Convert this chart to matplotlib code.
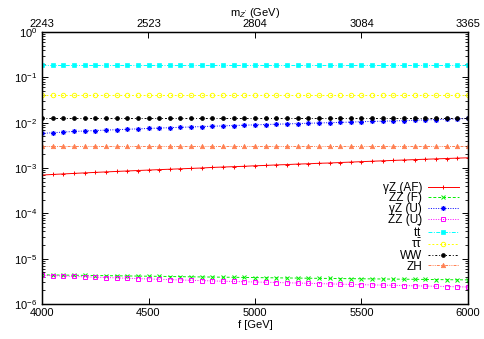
import numpy as np
import matplotlib
matplotlib.use("Agg")
import matplotlib.pyplot as plt
from matplotlib.ticker import FixedLocator, FixedFormatter, LogLocator, NullFormatter

plt.rcParams['font.family'] = ['Liberation Sans', 'DejaVu Sans']
plt.rcParams['mathtext.fontset'] = 'custom'
plt.rcParams['mathtext.rm'] = 'Liberation Sans'
plt.rcParams['mathtext.it'] = 'Liberation Sans:italic'

# f [GeV], 50 GeV steps
f = [4000, 4050, 4100, 4150, 4200, 4250, 4300, 4350, 4400, 4450,
     4500, 4550, 4600, 4650, 4700, 4750, 4800, 4850, 4900, 4950,
     5000, 5050, 5100, 5150, 5200, 5250, 5300, 5350, 5400, 5450,
     5500, 5550, 5600, 5650, 5700, 5750, 5800, 5850, 5900, 5950, 6000]

# branching ratios
gz_af = [0.70e-3, 0.72e-3, 0.74e-3, 0.76e-3, 0.78e-3, 0.80e-3, 0.82e-3, 0.84e-3, 0.86e-3, 0.88e-3,
         0.90e-3, 0.92e-3, 0.94e-3, 0.96e-3, 0.98e-3, 1.00e-3, 1.03e-3, 1.05e-3, 1.07e-3, 1.09e-3,
         1.12e-3, 1.14e-3, 1.17e-3, 1.19e-3, 1.22e-3, 1.24e-3, 1.27e-3, 1.29e-3, 1.32e-3, 1.35e-3,
         1.38e-3, 1.41e-3, 1.44e-3, 1.47e-3, 1.50e-3, 1.53e-3, 1.56e-3, 1.59e-3, 1.62e-3, 1.65e-3, 1.68e-3]
zz_f = [4.40e-6, 4.37e-6, 4.34e-6, 4.31e-6, 4.28e-6, 4.25e-6, 4.22e-6, 4.19e-6, 4.16e-6, 4.13e-6,
        4.10e-6, 4.07e-6, 4.04e-6, 4.01e-6, 3.98e-6, 3.95e-6, 3.93e-6, 3.90e-6, 3.88e-6, 3.85e-6,
        3.83e-6, 3.80e-6, 3.78e-6, 3.75e-6, 3.73e-6, 3.70e-6, 3.68e-6, 3.66e-6, 3.64e-6, 3.62e-6,
        3.60e-6, 3.58e-6, 3.56e-6, 3.54e-6, 3.52e-6, 3.50e-6, 3.48e-6, 3.46e-6, 3.44e-6, 3.42e-6, 3.40e-6]
gz_u = [5.8e-3, 6.0e-3, 6.2e-3, 6.4e-3, 6.55e-3, 6.7e-3, 6.85e-3, 7.0e-3, 7.15e-3, 7.3e-3,
        7.45e-3, 7.6e-3, 7.75e-3, 7.9e-3, 8.05e-3, 8.2e-3, 8.35e-3, 8.5e-3, 8.65e-3, 8.8e-3,
        8.95e-3, 9.1e-3, 9.25e-3, 9.4e-3, 9.55e-3, 9.7e-3, 9.85e-3, 10.0e-3, 10.15e-3, 10.3e-3,
        10.5e-3, 10.65e-3, 10.8e-3, 10.95e-3, 11.1e-3, 11.3e-3, 11.5e-3, 11.7e-3, 11.9e-3, 12.1e-3, 12.4e-3]
zz_u = [4.30e-6, 4.22e-6, 4.14e-6, 4.06e-6, 3.98e-6, 3.91e-6, 3.84e-6, 3.77e-6, 3.70e-6, 3.63e-6,
        3.57e-6, 3.51e-6, 3.45e-6, 3.39e-6, 3.33e-6, 3.28e-6, 3.23e-6, 3.18e-6, 3.14e-6, 3.10e-6,
        3.06e-6, 3.02e-6, 2.98e-6, 2.94e-6, 2.90e-6, 2.86e-6, 2.82e-6, 2.78e-6, 2.74e-6, 2.70e-6,
        2.67e-6, 2.64e-6, 2.61e-6, 2.58e-6, 2.55e-6, 2.52e-6, 2.49e-6, 2.46e-6, 2.43e-6, 2.40e-6, 2.37e-6]
tt = [0.187, 0.187, 0.187, 0.187, 0.187, 0.187, 0.187, 0.187, 0.187, 0.187,
      0.187, 0.187, 0.187, 0.187, 0.187, 0.187, 0.187, 0.187, 0.187, 0.187,
      0.187, 0.187, 0.187, 0.187, 0.187, 0.187, 0.187, 0.187, 0.187, 0.187,
      0.187, 0.187, 0.187, 0.187, 0.187, 0.187, 0.187, 0.187, 0.187, 0.187, 0.187]
tautau = [0.041, 0.041, 0.041, 0.041, 0.041, 0.041, 0.041, 0.041, 0.041, 0.041,
          0.041, 0.041, 0.041, 0.041, 0.041, 0.041, 0.041, 0.041, 0.041, 0.041,
          0.041, 0.041, 0.041, 0.041, 0.041, 0.041, 0.041, 0.041, 0.041, 0.041,
          0.041, 0.041, 0.041, 0.041, 0.041, 0.041, 0.041, 0.041, 0.041, 0.041, 0.041]
ww = [0.0124, 0.0124, 0.0124, 0.0124, 0.0124, 0.0124, 0.0124, 0.0124, 0.0124, 0.0124,
      0.0124, 0.0124, 0.0124, 0.0124, 0.0124, 0.0124, 0.0124, 0.0124, 0.0124, 0.0124,
      0.0124, 0.0124, 0.0124, 0.0124, 0.0124, 0.0124, 0.0124, 0.0124, 0.0124, 0.0124,
      0.0124, 0.0124, 0.0124, 0.0124, 0.0124, 0.0124, 0.0124, 0.0124, 0.0124, 0.0124, 0.0124]
zh = [0.0031, 0.0031, 0.0031, 0.0031, 0.0031, 0.0031, 0.0031, 0.0031, 0.0031, 0.0031,
      0.0031, 0.0031, 0.0031, 0.0031, 0.0031, 0.0031, 0.0031, 0.0031, 0.0031, 0.0031,
      0.0031, 0.0031, 0.0031, 0.0031, 0.0031, 0.0031, 0.0031, 0.0031, 0.0031, 0.0031,
      0.0031, 0.0031, 0.0031, 0.0031, 0.0031, 0.0031, 0.0031, 0.0031, 0.0031, 0.0031, 0.0031]

bottom_ticks = [4000, 4500, 5000, 5500, 6000]
top_labels = ['2243', '2523', '2804', '3084', '3365']

fig = plt.figure(figsize=(4.85, 3.39), dpi=100)
ax = fig.add_axes([42/485, 35/339, 426/485, 272/339])

lw = 0.7
ax.plot(f, gz_af, color='red', ls='-', lw=lw, marker='+', ms=3.5, mew=0.7, label='γZ (AF)')
ax.plot(f, zz_f, color='#00ee00', ls=(0, (3, 2)), lw=lw, marker='x', ms=2.8, mew=0.7, label='ZZ (F)')
ax.plot(f, gz_u, color='blue', ls=(0, (1, 1.5)), lw=lw, marker=(8, 2, 0), ms=3.5, mew=0.7,
        label='γZ (U)')
ax.plot(f, zz_u, color='magenta', ls=(0, (1, 1.5)), lw=lw, marker='s', ms=2.8, mew=0.7,
        mfc='none', label='ZZ (U)')
ax.plot(f, tt, color='cyan', ls=(0, (4, 1.5, 1, 1.5)), lw=lw, marker='s', ms=2.8, mew=0.5,
        label=r'$\mathrm{t}\bar{\mathrm{t}}$')
ax.plot(f, tautau, color='yellow', ls=(0, (2, 2)), lw=lw, marker='o', ms=3.2, mew=0.7,
        mfc='none', label=r'$\mathrm{\tau}\bar{\mathrm{\tau}}$')
ax.plot(f, ww, color='black', ls=(0, (2, 2, 1, 2)), lw=lw, marker='o', ms=2.8, mew=0.5, label='WW')
ax.plot(f, zh, color='#ff7f50', ls=(0, (3, 1.2, 1, 1.2, 1, 1.2)), lw=lw, marker='^', ms=3.2,
        mew=0.5, label='ZH')

ax.set_yscale('log')
ax.set_xlim(4000, 6000)
ax.set_ylim(1e-6, 1)
ax.set_xticks(bottom_ticks)
ax.set_xlabel('f [GeV]', fontsize=8, labelpad=1)
ax.yaxis.set_major_locator(LogLocator(base=10, numticks=10))
ax.yaxis.set_minor_locator(LogLocator(base=10, subs=np.arange(2, 10), numticks=20))
ax.yaxis.set_minor_formatter(NullFormatter())
ax.tick_params(which='both', direction='in', top=False, right=True, labelsize=8)
ax.tick_params(which='major', length=4, width=0.7)
ax.tick_params(which='minor', length=2, width=0.6)
ax.tick_params(axis='x', pad=3)
for s in ax.spines.values():
    s.set_linewidth(1.0)

top = ax.twiny()
top.set_xlim(ax.get_xlim())
top.xaxis.set_major_locator(FixedLocator(bottom_ticks))
top.xaxis.set_major_formatter(FixedFormatter(top_labels))
top.tick_params(direction='in', length=4, width=0.7, labelsize=8, pad=2)
top.set_xlabel(r"m$_{Z'}$ (GeV)", fontsize=8, labelpad=2)

leg = ax.legend(loc='upper right', bbox_to_anchor=(0.995, 0.475), frameon=False, fontsize=8.5,
                markerfirst=False, handlelength=2.6, handletextpad=0.5, labelspacing=-0.12,
                borderpad=0.1)
for t in leg.get_texts():
    t.set_ha('right')
leg._legend_box.align = 'right'

fig.savefig('out.png', dpi=100)
